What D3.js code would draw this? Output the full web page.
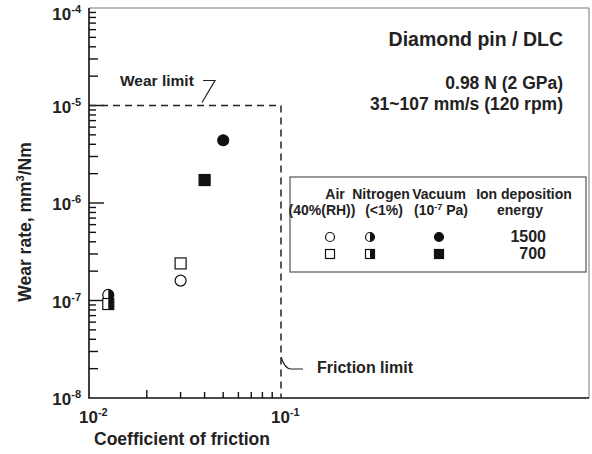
<!DOCTYPE html>
<html>
<head>
<meta charset="utf-8">
<script src="https://cdn.jsdelivr.net/npm/d3@7"></script>
<style>
  body { margin: 0; background: #fff; }
  text { font-family: "Liberation Sans", Arial, sans-serif; font-weight: bold; fill: #222; }
</style>
</head>
<body>
<div id="chart"></div>
<script>
// data
const pointAtmosphere = ["Air", "Air", "Nitrogen", "Nitrogen", "Vacuum", "Vacuum"];
const pointEnergy = [1500, 700, 1500, 700, 1500, 700];
const frictionValues = [0.03, 0.03, 0.0126, 0.0126, 0.05, 0.04];
const wearValues = [1.6e-7, 2.4e-7, 1.14e-7, 9.2e-8, 4.4e-6, 1.72e-6];

const xTickExps = [-2, -1];
const yTickExps = [-8, -7, -6, -5, -4];
const wearLimit = 1e-5;
const frictionLimit = 0.1;

const legendAtmos = ["Air", "Nitrogen", "Vacuum"];
const legendEnergies = [1500, 700];

var width = 592, height = 454;
var plotLeft = 89, plotRight = 589, plotTop = 8, plotBottom = 398;

var svg = d3.select('#chart').append('svg')
    .attr('width', width)
    .attr('height', height);

svg.append('rect').attr('width', width).attr('height', height).attr('fill', '#fff');

var x = d3.scaleLog().domain([0.01, 0.1]).range([plotLeft, plotLeft + 192]);
var y = d3.scaleLog().domain([1e-8, 1e-4]).range([plotBottom, plotTop]);

// frame: thin grey top/right, black axes left/bottom
svg.append('path')
    .attr('d', `M${plotLeft},${plotTop}H${plotRight}V${plotBottom}`)
    .attr('fill', 'none').attr('stroke', '#777').attr('stroke-width', 1);

// minor ticks for each decade
function minorTicks(lo, hi) {
    let out = [];
    for (let e = lo; e < hi; e++) {
        for (let m = 2; m <= 9; m++) out.push(m * Math.pow(10, e));
    }
    return out;
}
var yMinor = minorTicks(-8, -4);
var xMinor = minorTicks(-2, -1);

// axis lines
svg.append('path')
    .attr('d', `M${plotLeft},${plotTop}V${plotBottom}H${plotRight}`)
    .attr('fill', 'none').attr('stroke', '#111').attr('stroke-width', 1.6);

var ticks = svg.append('g').attr('stroke', '#111').attr('stroke-width', 1.4);
yMinor.forEach((d, i) => {
    ticks.append('line')
        .attr('x1', plotLeft).attr('x2', plotLeft + (i % 8 < 2 ? 9 : 7))
        .attr('y1', y(d)).attr('y2', y(d));
});
yTickExps.slice(1, -1).forEach(e => {
    ticks.append('line')
        .attr('x1', plotLeft).attr('x2', plotLeft + 15)
        .attr('y1', y(Math.pow(10, e))).attr('y2', y(Math.pow(10, e)));
});
xMinor.forEach((d, i) => {
    ticks.append('line')
        .attr('x1', x(d)).attr('x2', x(d))
        .attr('y1', plotBottom).attr('y2', plotBottom - (i === 0 ? 8 : 6));
});

// tick labels
var yLab = svg.selectAll('text.ylab')
    .data(yTickExps).enter().append('text')
    .attr('class', 'ylab')
    .attr('x', 81)
    .attr('y', d => y(Math.pow(10, d)) + 7 + (d === -4 ? 5 : 0))
    .attr('text-anchor', 'end')
    .style('font-size', '17px');
yLab.append('tspan').text('10');
yLab.append('tspan').text(d => '-' + Math.abs(d))
    .attr('dy', -7).style('font-size', '11px');

var xLab = svg.selectAll('text.xlab')
    .data(xTickExps).enter().append('text')
    .attr('class', 'xlab')
    .attr('x', d => x(Math.pow(10, d)) - 10)
    .attr('y', plotBottom + 25)
    .style('font-size', '17px');
xLab.append('tspan').text('10');
xLab.append('tspan').text(d => '-' + Math.abs(d))
    .attr('dy', -7).style('font-size', '11px');

// axis titles
svg.append('text')
    .attr('x', 94).attr('y', 445)
    .style('font-size', '17.5px')
    .text('Coefficient of friction');

var yTitle = svg.append('text')
    .attr('transform', 'translate(31,222) rotate(-90)')
    .attr('text-anchor', 'middle')
    .style('font-size', '17.5px');
yTitle.append('tspan').text('Wear rate, mm');
yTitle.append('tspan').text('3').attr('dy', -7).style('font-size', '11px');
yTitle.append('tspan').text('/Nm').attr('dy', 7);

// limit box (dashed)
svg.append('path')
    .attr('d', `M${x(0.01)},${y(wearLimit)}H${x(frictionLimit)}V${y(1e-8)}`)
    .attr('fill', 'none').attr('stroke', '#222')
    .attr('stroke-width', 1.5).attr('stroke-dasharray', '7,5');

// annotations
var wx = x(0.01) + 113, wy = y(wearLimit);
svg.append('path')
    .attr('d', `M${wx + 1},${wy - 25}H${wx + 13}L${wx},${wy - 3}`)
    .attr('fill', 'none').attr('stroke', '#222').attr('stroke-width', 1.2);
svg.append('text')
    .attr('x', 120).attr('y', 86)
    .style('font-size', '15.5px')
    .text('Wear limit');

var fx = x(frictionLimit);
svg.append('path')
    .attr('d', `M${fx},${357}Q${fx + 4},${369} ${fx + 10},${369}H${fx + 22}`)
    .attr('fill', 'none').attr('stroke', '#222').attr('stroke-width', 1.2);
svg.append('text')
    .attr('x', 317).attr('y', 373)
    .style('font-size', '16px')
    .text('Friction limit');

// header text
svg.append('text').attr('x', 563).attr('y', 46).attr('text-anchor', 'end')
    .style('font-size', '19.5px').text('Diamond pin / DLC');
svg.append('text').attr('x', 563).attr('y', 89).attr('text-anchor', 'end')
    .style('font-size', '17.5px').text('0.98 N (2 GPa)');
svg.append('text').attr('x', 563).attr('y', 110).attr('text-anchor', 'end')
    .style('font-size', '17.5px').text('31~107 mm/s (120 rpm)');

// markers
function drawMarker(g, cx, cy, atmos, energy, s) {
    var fill = atmos === 'Vacuum' ? '#111' : '#fff';
    if (energy === 1500) {
        var r = s / 2;
        g.append('circle').attr('cx', cx).attr('cy', cy).attr('r', r)
            .attr('fill', fill).attr('stroke', '#111').attr('stroke-width', 1.2);
        if (atmos === 'Nitrogen') {
            g.append('path')
                .attr('d', `M${cx},${cy - r}A${r},${r} 0 0 1 ${cx},${cy + r}Z`)
                .attr('fill', '#111');
        }
    } else {
        g.append('rect').attr('x', cx - s / 2).attr('y', cy - s / 2)
            .attr('width', s).attr('height', s)
            .attr('fill', fill).attr('stroke', '#111').attr('stroke-width', 1.2);
        if (atmos === 'Nitrogen') {
            g.append('rect').attr('x', cx).attr('y', cy - s / 2)
                .attr('width', s / 2).attr('height', s).attr('fill', '#111');
        }
    }
}

var pts = svg.append('g');
frictionValues.forEach((f, i) => {
    drawMarker(pts, x(f), y(wearValues[i]), pointAtmosphere[i], pointEnergy[i], 11);
});

// legend
var lg = svg.append('g');
lg.append('rect').attr('x', 290).attr('y', 177).attr('width', 296).attr('height', 95)
    .attr('fill', '#fff').attr('stroke', '#555').attr('stroke-width', 1.2);

var headers = [
    { x: 335, l1: 'Air', l2: ['(40%(RH))'] },
    { x: 381, l1: 'Nitrogen', l2: ['(<1%)'] },
    { x: 439, l1: 'Vacuum', l2: ['(10', '-7', ' Pa)'] },
    { x: 524, l1: 'Ion deposition', l2: ['energy'] }
];
var symX = [330, 370, 439];
var subX = [322, 384, 441, 520];
headers.forEach((h, i) => {
    lg.append('text').attr('x', h.x).attr('y', 199).attr('text-anchor', 'middle')
        .style('font-size', '14px').text(h.l1);
    var t = lg.append('text').attr('x', subX[i]).attr('y', 215).attr('text-anchor', 'middle')
        .style('font-size', '14px');
    if (h.l2.length === 3) {
        t.append('tspan').text(h.l2[0]);
        t.append('tspan').text(h.l2[1]).attr('dy', -5).style('font-size', '9px');
        t.append('tspan').text(h.l2[2]).attr('dy', 5);
    } else {
        t.text(h.l2[0]);
    }
});

var rowY = [237, 254];
legendEnergies.forEach((e, j) => {
    legendAtmos.forEach((a, i) => {
        drawMarker(lg, symX[i], rowY[j], a, e, 9);
    });
    lg.append('text').attr('x', 546).attr('y', rowY[j] + 5).attr('text-anchor', 'end')
        .style('font-size', '16px').text(e);
});
</script>
</body>
</html>
